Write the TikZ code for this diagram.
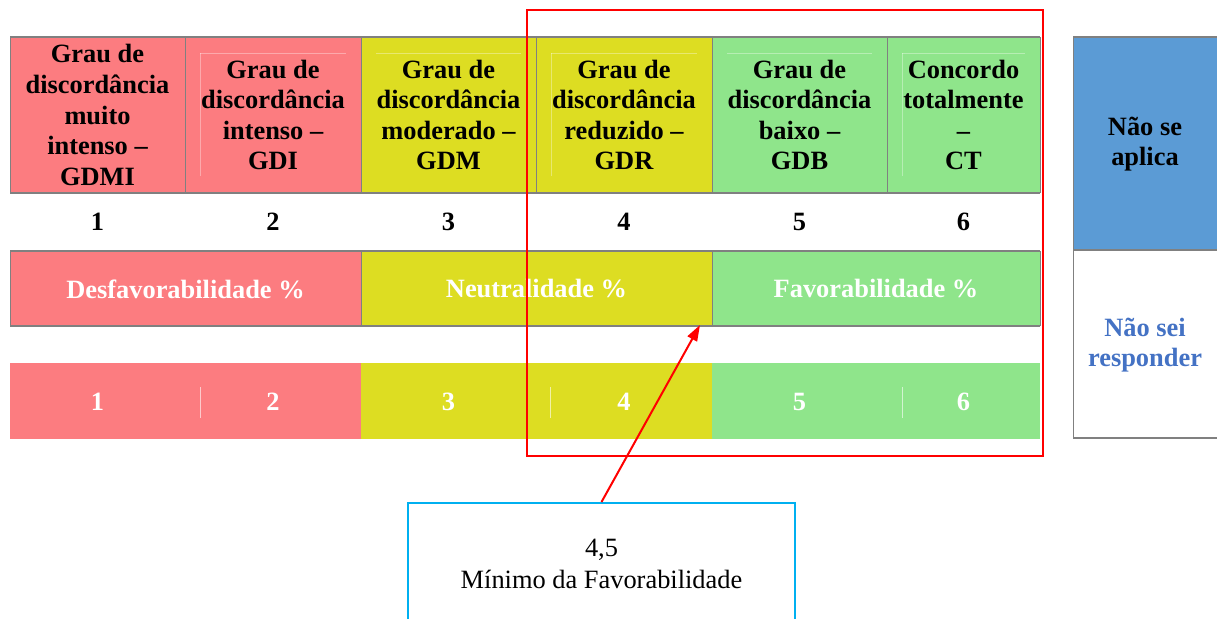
\documentclass[tikz,border=0pt]{standalone}
\usepackage{fontspec}
\setmainfont{Liberation Serif}
\usetikzlibrary{arrows.meta}

\definecolor{rosa}{RGB}{252,124,128}
\definecolor{amarelo}{RGB}{221,221,34}
\definecolor{verde}{RGB}{143,229,139}
\definecolor{azul}{RGB}{91,155,213}
\definecolor{azultexto}{RGB}{68,114,196}
\definecolor{ciano}{RGB}{0,176,240}
\definecolor{borda}{RGB}{128,128,128}

\tikzset{
  cabec/.style={font=\bfseries\fontsize{19.8}{22.9}\selectfont, align=center},
  numero/.style={font=\bfseries\fontsize{19.8}{22.9}\selectfont},
  faixa/.style={font=\bfseries\fontsize{19.8}{22.9}\selectfont, text=white},
  caixamin/.style={draw=ciano, line width=1.5pt, minimum width=290pt, minimum height=91.5pt,
    align=center, font=\fontsize{19.8}{24}\selectfont},
}

\begin{document}
\begin{tikzpicture}[x=0.75pt, y=-0.75pt]
\useasboundingbox (0,0) rectangle (1217,618);
\clip (0,0) rectangle (1217,618);

% header row
\fill[rosa] (10,37) rectangle (361,193);
\fill[amarelo] (361,37) rectangle (712,193);
\fill[verde] (712,37) rectangle (1040,193);
\foreach \a/\b in {185/361, 361/536, 536/712, 712/887, 887/1040}
  \draw[white, opacity=0.35, very thin] (\a+15,53) -- (\b-15,53); % cell padding
\foreach \a in {185, 536, 887}
  \draw[white, opacity=0.35, very thin] (\a+15,53) -- (\a+15,176);
\draw[borda, line width=1.5pt] (10,37) -- (1040,37); % top
\draw[borda, line width=1.5pt] (10,193) -- (1040,193); % bottom
\foreach \x in {10, 185, 361, 536, 712, 887, 1040}
  \draw[borda, line width=0.75pt] (\x,37) -- (\x,193);

\node[cabec] (gdmi) at (97.5,115) {Grau de\\discordância\\muito\\intenso --\\GDMI};
\node[cabec] (gdi) at (273,115) {Grau de\\discordância\\intenso --\\GDI};
\node[cabec] (gdm) at (448.5,115) {Grau de\\discordância\\moderado --\\GDM};
\node[cabec] (gdr) at (624,115) {Grau de\\discordância\\reduzido --\\GDR};
\node[cabec] (gdb) at (799.5,115) {Grau de\\discordância\\baixo --\\GDB};
\node[cabec] (ct) at (963.5,115) {Concordo\\totalmente\\--\\CT};

% scale numbers
\foreach \x/\n in {97.5/1, 273/2, 448.5/3, 624/4, 799.5/5, 963.5/6}
  \node[numero] (num\n) at (\x,222) {\n};

% category row
\fill[rosa] (10,251) rectangle (361,326);
\fill[amarelo] (361,251) rectangle (712,326);
\fill[verde] (712,251) rectangle (1040,326);
\draw[borda, line width=1.5pt] (10,251) -- (1040,251);
\draw[borda, line width=1.5pt] (10,326) -- (1040,326);
\foreach \x in {10, 361, 712, 1040}
  \draw[borda, line width=0.75pt] (\x,251) -- (\x,326);
\node[faixa] (desf) at (185.5,289) {Desfavorabilidade \%};
\node[faixa] (neutr) at (536.5,289) {Neutralidade \%};
\node[faixa] (fav) at (876,289) {Favorabilidade \%};

% bottom row
\fill[rosa] (10,363) rectangle (361,439);
\fill[amarelo] (361,363) rectangle (712,439);
\fill[verde] (712,363) rectangle (1040,439);
\foreach \x in {200, 550, 902}
  \draw[white, opacity=0.6, very thin] (\x,387) -- (\x,418); % separators
\foreach \x/\n in {97.5/1, 273/2, 448.5/3, 624/4, 799.5/5, 963.5/6}
  \node[faixa] (val\n) at (\x,402) {\n};

% right panel
\fill[azul] (1073,37) rectangle (1217,250);
\draw[borda, line width=1.5pt] (1073,37) -- (1217,37);
\draw[borda, line width=1.5pt] (1073,250) -- (1217,250);
\draw[borda, line width=1.5pt] (1073,438) -- (1217,438);
\draw[borda, line width=0.75pt] (1073,37) -- (1073,438);
\node[cabec] (naoaplica) at (1145,144) {Não se\\aplica};
\node[cabec, text=azultexto] (naosei) at (1145,345) {Não sei\\responder};

% highlight
\draw[red, line width=1.5pt] (527,10) rectangle (1043,456);

% note box and arrow
\node[caixamin] (minimo) at (601.5,564) {4,5\\Mínimo da Favorabilidade};
\coordinate (alvo) at (700,325);
\draw[red, line width=1.5pt, -{Triangle[length=12pt, width=8pt]}] (minimo.north) -- (alvo);

\end{tikzpicture}
\end{document}
